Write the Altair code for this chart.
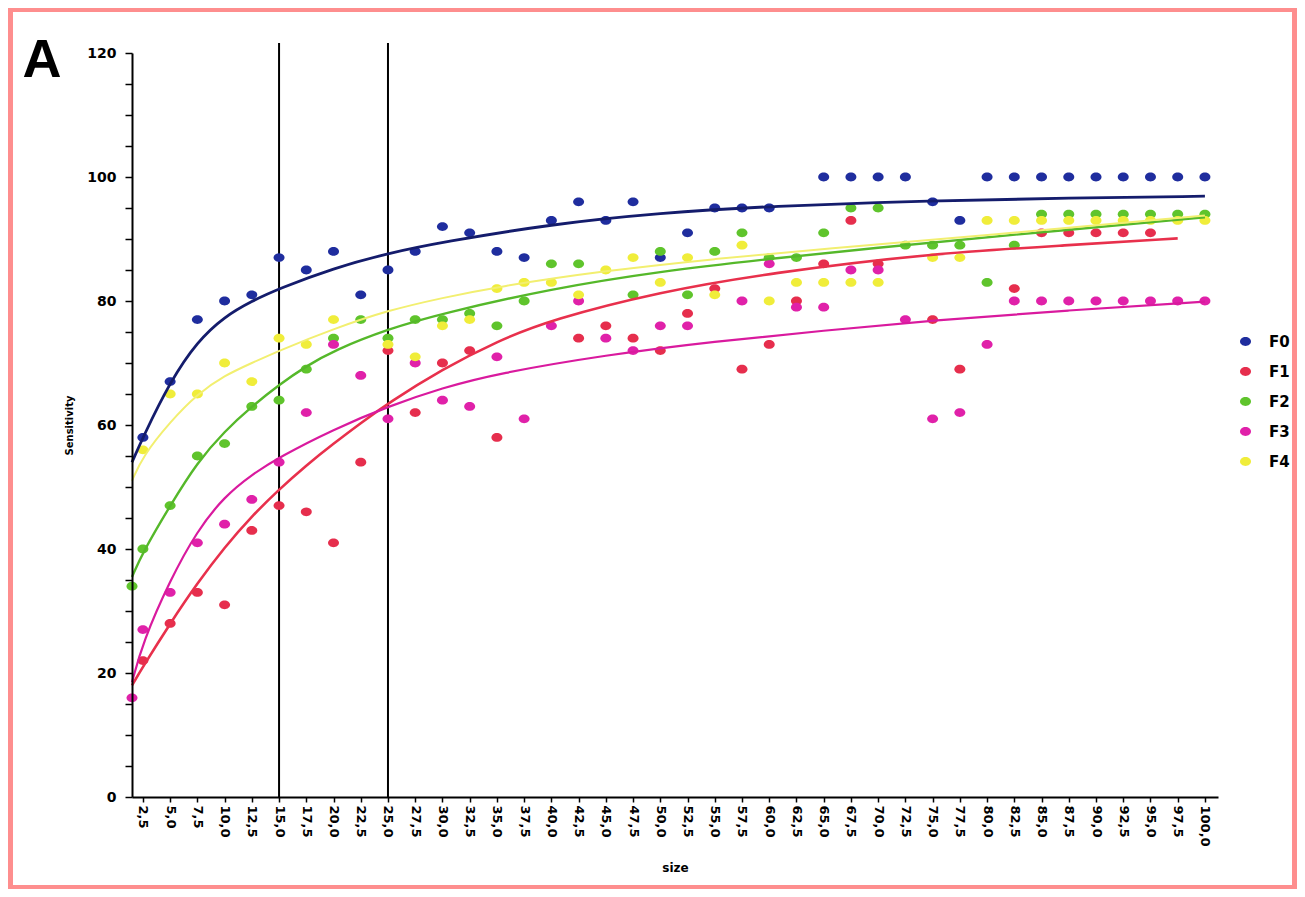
import altair as alt
import pandas as pd

# ---- data ----
sizes = [2.5, 5.0, 7.5, 10.0, 12.5, 15.0, 17.5, 20.0, 22.5, 25.0,
         27.5, 30.0, 32.5, 35.0, 37.5, 40.0, 42.5, 45.0, 47.5, 50.0,
         52.5, 55.0, 57.5, 60.0, 62.5, 65.0, 67.5, 70.0, 72.5, 75.0,
         77.5, 80.0, 82.5, 85.0, 87.5, 90.0, 92.5, 95.0, 97.5, 100.0]

f0 = [58, 67, 77, 80, 81, 87, 85, 88, 81, 85,
      88, 92, 91, 88, 87, 93, 96, 93, 96, 87,
      91, 95, 95, 95, None, 100, 100, 100, 100, 96,
      93, 100, 100, 100, 100, 100, 100, 100, 100, 100]
f1 = [22, 28, 33, 31, 43, 47, 46, 41, 54, 72,
      62, 70, 72, 58, None, None, 74, 76, 74, 72,
      78, 82, 69, 73, 80, 86, 93, 86, None, 77,
      69, None, 82, 91, 91, 91, 91, 91, None, None]
f2 = [40, 47, 55, 57, 63, 64, 69, 74, 77, 74,
      77, 77, 78, 76, 80, 86, 86, None, 81, 88,
      81, 88, 91, 87, 87, 91, 95, 95, 89, 89,
      89, 83, 89, 94, 94, 94, 94, 94, 94, 94]
f3 = [27, 33, 41, 44, 48, 54, 62, 73, 68, 61,
      70, 64, 63, 71, 61, 76, 80, 74, 72, 76,
      76, None, 80, 86, 79, 79, 85, 85, 77, 61,
      62, 73, 80, 80, 80, 80, 80, 80, 80, 80]
f4 = [56, 65, 65, 70, 67, 74, 73, 77, None, 73,
      71, 76, 77, 82, 83, 83, 81, 85, 87, 83,
      87, 81, 89, 80, 83, 83, 83, 83, None, 87,
      87, 93, 93, 93, 93, 93, 93, 93, 93, 93]

# points sitting on the y axis
edge_series = ["F2", "F3"]
edge_x = [1.5, 1.5]
edge_y = [34, 16]

# fitted curves, read at sample positions
c0_x = [1.5, 2.5, 5, 7.5, 10, 12.5, 15, 20, 25, 30, 40, 50, 60, 75, 87.5, 100]
c0_y = [54, 58, 67, 73.5, 77.5, 80, 82, 85.3, 87.7, 89.5, 92.4, 94.2, 95.3, 96.2, 96.6, 96.9]
c1_x = [1.5, 2.5, 5, 7.5, 10, 12.5, 15, 17.5, 20, 22.5, 25, 30, 35, 40, 50, 60, 75, 87.5, 97.5]
c1_y = [18, 21, 28, 34.5, 40.3, 45.3, 49.6, 53.5, 57, 60.3, 63.5, 69, 73.5, 77, 81.5, 84.5, 87.7, 89, 90.1]
c2_x = [1.5, 2.5, 5, 7.5, 10, 12.5, 15, 17.5, 20, 25, 30, 40, 50, 60, 70, 80, 100]
c2_y = [35.5, 39.5, 47, 54, 59, 63, 66.5, 69.5, 72, 75.5, 78, 82, 84.8, 86.8, 88.6, 90.3, 93.5]
c3_x = [1.5, 2.5, 5, 7.5, 10, 12.5, 15, 20, 25, 30, 35, 45, 55, 65, 75, 87.5, 100]
c3_y = [18.5, 25, 35, 43, 48.5, 52, 54.8, 59.3, 63, 66, 68.3, 71.3, 73.5, 75.2, 76.9, 78.5, 79.9]
c4_x = [1.5, 2.5, 5, 7.5, 10, 12.5, 15, 20, 25, 30, 35, 45, 55, 65, 80, 100]
c4_y = [51, 55, 60.5, 65, 68, 70, 72, 75.5, 78.5, 80.5, 82.3, 84.9, 86.8, 88.4, 90.6, 93.8]

cut_x = [15.0, 25.0]

series = ["F0", "F1", "F2", "F3", "F4"]
dot_colors = ["#1f2d9e", "#e62e4d", "#5fc42c", "#e021a9", "#f0ed3a"]
line_colors = ["#141c6c", "#e8304c", "#55b82a", "#d91a9e", "#f2ef70"]
line_widths = [2.8, 2.0, 2.0, 2.2, 2.0]

# ---- tables ----
rows = []
for name, vals in zip(series, [f0, f1, f2, f3, f4]):
    for s, v in zip(sizes, vals):
        if v is not None:
            rows.append({"x": s, "y": v, "series": name})
for name, s, v in zip(edge_series, edge_x, edge_y):
    rows.append({"x": s, "y": v, "series": name})
pts = pd.DataFrame(rows)

crows = []
for name, xs_, ys_ in zip(series, [c0_x, c1_x, c2_x, c3_x, c4_x], [c0_y, c1_y, c2_y, c3_y, c4_y]):
    for i, (a, b) in enumerate(zip(xs_, ys_)):
        crows.append({"x": a, "y": b, "series": name, "o": i})
curves = pd.DataFrame(crows)

rules = pd.DataFrame({"x": cut_x, "y": [0, 0], "y2": [121.6, 121.6]})

W, H = 1086, 744
FONT = "DejaVu Sans"
ELLIPSE = "M -1 0 A 1 0.8 0 1 0 1 0 A 1 0.8 0 1 0 -1 0 Z"

x_axis = alt.Axis(values=sizes,
                  labelExpr="replace(format(datum.value, '.1f'), '.', ',')",
                  labelAngle=90, labelFontSize=13, labelFont=FONT, labelFontWeight="bold",
                  labelColor="black", labelPadding=3, labelOverlap=False, labelFlush=False,
                  tickSize=5, tickColor="black", tickWidth=1.5,
                  domainColor="black", domainWidth=2, grid=False, zindex=2,
                  title="size", titleFont=FONT, titleFontSize=12, titleFontWeight="bold",
                  titleColor="black", titlePadding=16)
y_axis = alt.Axis(values=list(range(0, 121, 5)),
                  labelExpr="datum.value % 20 == 0 ? datum.label : ''",
                  labelFontSize=14, labelFont=FONT, labelFontWeight="bold", labelColor="black",
                  labelPadding=9, tickSize=7, tickColor="black", tickWidth=1.5,
                  domainColor="black", domainWidth=2, grid=False, zindex=2,
                  title="Sensitivity", titleFont=FONT, titleFontSize=10, titleFontWeight="bold",
                  titleColor="black", titlePadding=12)

xs = alt.Scale(domain=[1.5, 101.2], nice=False, zero=False)
ys = alt.Scale(domain=[0, 120], nice=False)

X = alt.X("x:Q", scale=xs, axis=x_axis)
Y = alt.Y("y:Q", scale=ys, axis=y_axis)

one = pd.DataFrame({"k": [0]})
paper = alt.Chart(one).mark_rect(color="white").encode(
    x=alt.value(-119), x2=alt.value(1160), y=alt.value(-41), y2=alt.value(832))

rule_layer = alt.Chart(rules).mark_rule(color="black", strokeWidth=2).encode(
    x=X, y=Y, y2="y2:Q")

point_layer = alt.Chart(pts).mark_point(filled=True, shape=ELLIPSE, size=120, opacity=1,
                                        strokeWidth=0).encode(
    x=X, y=Y,
    color=alt.Color("series:N",
                    scale=alt.Scale(domain=series, range=dot_colors),
                    legend=alt.Legend(orient="none", legendX=1106, legendY=281, title=None,
                                      symbolType=ELLIPSE, symbolSize=120,
                                      labelFont=FONT, labelFontSize=15, labelFontWeight="bold",
                                      labelColor="black", labelOffset=16, rowPadding=14)))

line_layer = alt.Chart(curves).mark_line(interpolate="basis").encode(
    x=X, y=Y, order="o:Q",
    color=alt.Color("series:N", scale=alt.Scale(domain=series, range=line_colors), legend=None),
    strokeWidth=alt.StrokeWidth("series:N", scale=alt.Scale(domain=series, range=line_widths),
                                legend=None))

letter = alt.Chart(one).mark_text(text="A", fontSize=54, fontWeight="bold",
                                  font="Liberation Sans", align="center",
                                  baseline="alphabetic", color="black").encode(
    x=alt.value(-90), y=alt.value(24))

chart = alt.layer(paper, rule_layer, point_layer, line_layer, letter).resolve_scale(
    color="independent"
).properties(
    width=W, height=H,
    autosize=alt.AutoSizeParams(type="none"),
    padding={"left": 124, "top": 45, "right": 79, "bottom": 92},
    background="#fe8e8e",
).configure_view(stroke=None)

chart.save("out.html", embed_options={"renderer": "svg", "actions": False})
